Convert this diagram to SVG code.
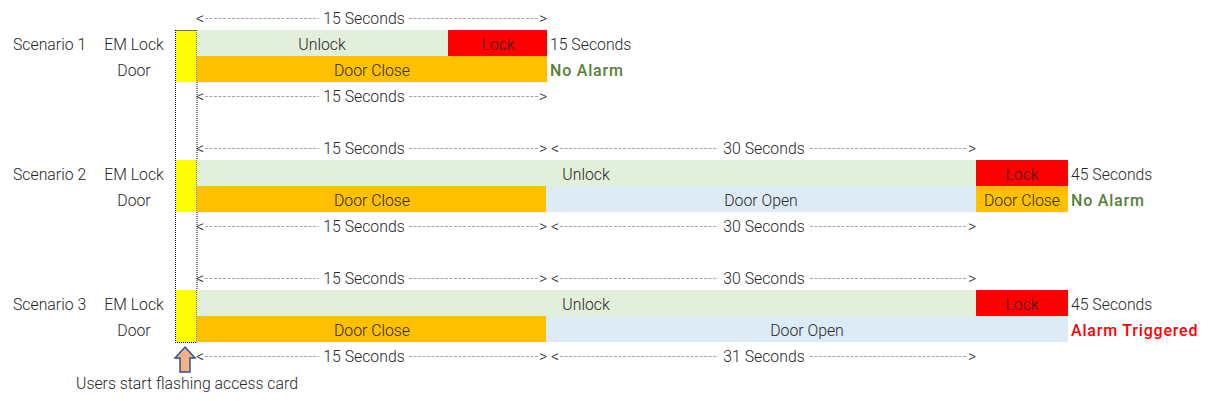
<svg xmlns="http://www.w3.org/2000/svg" width="1210" height="401" viewBox="0 0 1210 401">
<style>
text{font-family:Roboto,"Liberation Sans",sans-serif;font-size:15.8px;font-weight:300;fill:#262626}
.m{text-anchor:middle}
.g{fill:#E2EFDA}.r{fill:#FF0000}.o{fill:#FFC000}.b{fill:#DDEBF7}.y{fill:#FFFF00}
.ok{fill:#548235;font-weight:500;font-size:16px;letter-spacing:0.8px}
.al{fill:#FF0000;font-weight:500;font-size:16px;letter-spacing:0.8px}
.dl{stroke:#A6A6A6;stroke-width:1;stroke-dasharray:3 1.5;fill:none}
.dot{stroke:#000;stroke-width:1;stroke-dasharray:1 1;fill:none}
</style>
<rect width="1210" height="401" fill="#fff"/>
<g id="labels">
<text x="13" y="50">Scenario 1</text>
<text x="134" y="50" class="m">EM Lock</text>
<text x="134" y="76" class="m">Door</text>
<text x="13" y="180">Scenario 2</text>
<text x="134" y="180" class="m">EM Lock</text>
<text x="134" y="206" class="m">Door</text>
<text x="13" y="310">Scenario 3</text>
<text x="134" y="310" class="m">EM Lock</text>
<text x="134" y="336" class="m">Door</text>
</g>
<g id="card-column">
<rect class="y" x="176" y="30" width="21" height="52"/>
<rect class="y" x="176" y="160" width="21" height="52"/>
<rect class="y" x="176" y="290" width="21" height="52"/>
<path class="dot" d="M175.5 30V342.5H197M197 30V342.5M175.5 30.5H197"/>
</g>
<g id="scenario1">
<rect class="g" x="197" y="30" width="251" height="26"/><text x="322" y="50" class="m">Unlock</text>
<rect class="r" x="448" y="30" width="99" height="26"/><text x="498" y="50" class="m">Lock</text>
<rect class="o" x="197" y="56" width="350" height="26"/><text x="372" y="76" class="m">Door Close</text>
<text x="550" y="50">15 Seconds</text>
<text x="550" y="76" class="ok">No Alarm</text>
</g>
<g id="scenario2">
<rect class="g" x="197" y="160" width="779" height="26"/><text x="586" y="180" class="m">Unlock</text>
<rect class="r" x="976" y="160" width="92" height="26"/><text x="1022" y="180" class="m">Lock</text>
<rect class="o" x="197" y="186" width="349" height="26"/><text x="372" y="206" class="m">Door Close</text>
<rect class="b" x="546" y="186" width="430" height="26"/><text x="761" y="206" class="m">Door Open</text>
<rect class="o" x="976" y="186" width="92" height="26"/><text x="1022" y="206" class="m">Door Close</text>
<text x="1071" y="180">45 Seconds</text>
<text x="1071" y="206" class="ok">No Alarm</text>
</g>
<g id="scenario3">
<rect class="g" x="197" y="290" width="779" height="26"/><text x="586" y="310" class="m">Unlock</text>
<rect class="r" x="976" y="290" width="92" height="26"/><text x="1022" y="310" class="m">Lock</text>
<rect class="o" x="197" y="316" width="349" height="26"/><text x="372" y="336" class="m">Door Close</text>
<rect class="b" x="546" y="316" width="522" height="26"/><text x="807" y="336" class="m">Door Open</text>
<text x="1071" y="310">45 Seconds</text>
<text x="1071" y="336" class="al">Alarm Triggered</text>
</g>
<g id="connectors">
<g id="dim-s1-top">
<text x="196" y="24">&lt;</text><path class="dl" d="M205 18.5H319M409 18.5H539"/><text x="364" y="24" class="m">15 Seconds</text><text x="539" y="24">&gt;</text>
</g>
<g id="dim-s1-bot">
<text x="196" y="102">&lt;</text><path class="dl" d="M205 96.5H319M409 96.5H539"/><text x="364" y="102" class="m">15 Seconds</text><text x="539" y="102">&gt;</text>
</g>
<g id="dim-s2-top">
<text x="196" y="154">&lt;</text><path class="dl" d="M205 148.5H319M409 148.5H539"/><text x="364" y="154" class="m">15 Seconds</text><text x="539" y="154">&gt;</text>
<text x="551" y="154">&lt;</text><path class="dl" d="M560 148.5H718M810 148.5H967"/><text x="764" y="154" class="m">30 Seconds</text><text x="968" y="154">&gt;</text>
</g>
<g id="dim-s2-bot">
<text x="196" y="232">&lt;</text><path class="dl" d="M205 226.5H319M409 226.5H539"/><text x="364" y="232" class="m">15 Seconds</text><text x="539" y="232">&gt;</text>
<text x="551" y="232">&lt;</text><path class="dl" d="M560 226.5H718M810 226.5H967"/><text x="764" y="232" class="m">30 Seconds</text><text x="968" y="232">&gt;</text>
</g>
<g id="dim-s3-top">
<text x="196" y="284">&lt;</text><path class="dl" d="M205 278.5H319M409 278.5H539"/><text x="364" y="284" class="m">15 Seconds</text><text x="539" y="284">&gt;</text>
<text x="551" y="284">&lt;</text><path class="dl" d="M560 278.5H718M810 278.5H967"/><text x="764" y="284" class="m">30 Seconds</text><text x="968" y="284">&gt;</text>
</g>
<g id="dim-s3-bot">
<text x="196" y="362">&lt;</text><path class="dl" d="M205 356.5H319M409 356.5H539"/><text x="364" y="362" class="m">15 Seconds</text><text x="539" y="362">&gt;</text>
<text x="551" y="362">&lt;</text><path class="dl" d="M560 356.5H718M810 356.5H967"/><text x="764" y="362" class="m">31 Seconds</text><text x="968" y="362">&gt;</text>
</g>
</g>
<g id="start-arrow">
<path d="M185 347L195 358H190V372H180V358H175Z" fill="#F4B183" stroke="#2F528F" stroke-width="1.5" stroke-linejoin="miter"/>
<text x="76" y="389">Users start flashing access card</text>
</g>
</svg>
